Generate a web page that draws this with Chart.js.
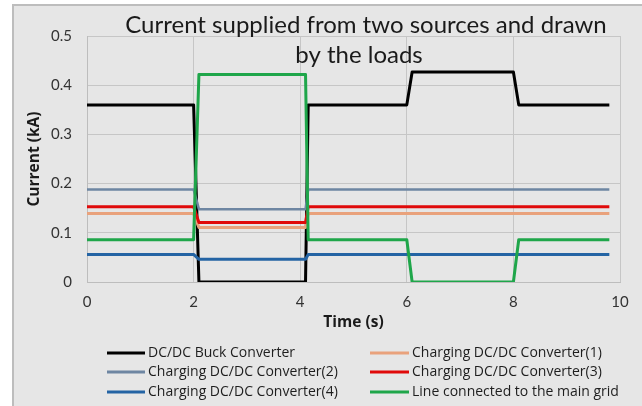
<!DOCTYPE html>
<html>
<head>
<meta charset="utf-8">
<script src="https://cdn.jsdelivr.net/npm/chart.js@4.4.1/dist/chart.umd.min.js"></script>
<style>
  html, body { margin: 0; padding: 0; background: #ffffff; width: 642px; height: 406px; overflow: hidden; }
  #frame { position: absolute; left: 12px; top: 4px; width: 630px; height: 402px; background: #E6E6E6;
           border-left: 2px solid #BDBDBD; border-top: 2px solid #BDBDBD; box-sizing: border-box; }
  #c { position: absolute; left: 0; top: 0; }
</style>
</head>
<body>
<div id="frame"></div>
<canvas id="c" width="642" height="406"></canvas>
<script>
// ---- data ----
const times = [0, 2.0, 2.1, 4.1, 4.15, 6.0, 6.1, 8.0, 8.1, 9.8];
const buckConverter = [0.36, 0.36, 0, 0, 0.36, 0.36, 0.427, 0.427, 0.36, 0.36];
const charging1 = [0.139, 0.139, 0.111, 0.111, 0.139, 0.139, 0.139, 0.139, 0.139, 0.139];
const charging2 = [0.188, 0.188, 0.148, 0.148, 0.188, 0.188, 0.188, 0.188, 0.188, 0.188];
const charging3 = [0.153, 0.153, 0.121, 0.121, 0.153, 0.153, 0.153, 0.153, 0.153, 0.153];
const charging4 = [0.056, 0.056, 0.046, 0.046, 0.056, 0.056, 0.056, 0.056, 0.056, 0.056];
const mainGrid = [0.086, 0.086, 0.422, 0.422, 0.086, 0.086, 0, 0, 0.086, 0.086];

const seriesNames = [
  'DC/DC Buck Converter',
  'Charging DC/DC Converter(1)',
  'Charging DC/DC Converter(2)',
  'Charging DC/DC Converter(3)',
  'Charging DC/DC Converter(4)',
  'Line connected to the main grid'
];
const xTickLabels = ['0', '2', '4', '6', '8', '10'];
const yTickLabels = ['0', '0.1', '0.2', '0.3', '0.4', '0.5'];
const titleLines = ['Current supplied from two sources and drawn', 'by the loads'];
const xTitle = 'Time (s)';
const yTitle = 'Current (kA)';

// ---- styling ----
const colors = ['#000000', '#E9A27C', '#6E86A2', '#E00A0A', '#2464A4', '#1FA64A'];
const widths = [3, 3, 2.5, 3, 3, 3];
const FONT = 'Lato, "Open Sans", sans-serif';
const FONT2 = '"Open Sans", Lato, sans-serif';

const allSeries = [buckConverter, charging1, charging2, charging3, charging4, mainGrid];
const datasets = allSeries.map((vals, i) => ({
  label: seriesNames[i],
  data: times.map((t, k) => ({ x: t, y: vals[k] })),
  borderColor: colors[i],
  backgroundColor: colors[i],
  borderWidth: widths[i],
  pointRadius: 0,
  tension: 0,
  fill: false,
  borderJoinStyle: 'round',
  order: allSeries.length - i
}));

const titlePlugin = {
  id: 'overlayTitle',
  afterDraw(chart) {
    const ctx = chart.ctx;
    ctx.save();
    ctx.fillStyle = '#1a1a1a';
    ctx.font = '24px ' + FONT;
    ctx.textAlign = 'center';
    ctx.textBaseline = 'middle';
    ctx.fillText(titleLines[0], 366, 25);
    ctx.fillText(titleLines[1], 359, 55);
    ctx.restore();
  }
};

const legendPlugin = {
  id: 'gridLegend',
  afterDraw(chart) {
    const ctx = chart.ctx;
    const cols = [107, 370];
    const lineLen = [38, 39];
    const rows = [353, 372, 392];
    ctx.save();
    ctx.font = '14px ' + FONT2;
    ctx.textBaseline = 'middle';
    ctx.textAlign = 'left';
    chart.data.datasets.forEach((ds, i) => {
      const col = i % 2;
      const cx = cols[col];
      const cy = rows[Math.floor(i / 2)];
      ctx.strokeStyle = ds.borderColor;
      ctx.lineWidth = 3;
      ctx.beginPath();
      ctx.moveTo(cx, cy);
      ctx.lineTo(cx + lineLen[col], cy);
      ctx.stroke();
      ctx.fillStyle = '#1e1e1e';
      ctx.fillText(ds.label, cx + lineLen[col] + 3, cy);
    });
    ctx.restore();
  }
};

new Chart(document.getElementById('c'), {
  type: 'line',
  data: { datasets },
  options: {
    responsive: false,
    animation: false,
    devicePixelRatio: 1,
    layout: { padding: { left: 12, right: 22, top: 36, bottom: 74 } },
    plugins: {
      legend: { display: false },
      title: { display: false },
      tooltip: { enabled: false }
    },
    scales: {
      x: {
        type: 'linear',
        min: 0, max: 10,
        afterFit: s => { s.height = 50; },
        ticks: {
          stepSize: 2,
          padding: 11,
          color: '#333333',
          font: { family: FONT, size: 15 },
          callback: v => xTickLabels[Math.round(v / 2)]
        },
        grid: { color: '#C6C6C6', lineWidth: 1, drawTicks: false },
        border: { display: true, color: '#BDBDBD', width: 1 },
        title: {
          display: true, text: xTitle, color: '#1a1a1a',
          font: { family: FONT2, size: 15.5, weight: 'bold' },
          padding: { top: 0, bottom: 0 }
        }
      },
      y: {
        min: 0, max: 0.5,
        afterFit: s => { s.width = 75; },
        ticks: {
          stepSize: 0.1,
          padding: 15,
          color: '#333333',
          font: { family: FONT, size: 15 },
          callback: v => yTickLabels[Math.round(v * 10)]
        },
        grid: { color: '#C6C6C6', lineWidth: 1, drawTicks: false },
        border: { display: true, color: '#BDBDBD', width: 1 },
        title: {
          display: true, text: yTitle, color: '#1a1a1a',
          font: { family: FONT2, size: 15.5, weight: 'bold' },
          padding: { top: 13, bottom: 0 }
        }
      }
    }
  },
  plugins: [titlePlugin, legendPlugin]
});
</script>
</body>
</html>
